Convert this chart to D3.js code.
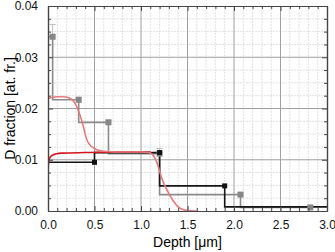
<!DOCTYPE html>
<html>
<head>
<meta charset="utf-8">
<script src="https://cdn.jsdelivr.net/npm/d3@7"></script>
<style>
  body { margin: 0; background: #fff; }
  svg { display: block; font-family: "Liberation Sans", Arial, sans-serif; }
</style>
</head>
<body>
<svg width="335" height="252"></svg>
<script>
// layer profiles: marker at the end of each layer
let blackDepth = [0.5, 1.2, 1.9, 3.1]
let blackFrac = [0.0095, 0.0114, 0.0049, 0.0008]

let grayDepth = [0.05, 0.33, 0.65, 1.2, 2.07, 2.82]
let grayFrac = [0.034, 0.0217, 0.0173, 0.0112, 0.0032, 0.0007]
let grayErr = [0.0024, 0.0005, 0.0004, 0.0010, 0.0002, 0.0002]

// smooth profiles
let pinkDepth = [0, 0.05, 0.1, 0.16, 0.22, 0.26, 0.3, 0.33, 0.36, 0.38, 0.4, 0.42, 0.45, 0.5, 0.55, 0.63, 0.8, 1.0, 1.08, 1.12, 1.15, 1.18, 1.22, 1.26, 1.3, 1.35, 1.4, 1.45, 1.5, 1.6]
let pinkFrac = [0.0219, 0.0222, 0.0223, 0.0223, 0.0221, 0.0217, 0.0207, 0.0194, 0.0178, 0.0165, 0.015, 0.0138, 0.0129, 0.0122, 0.0118, 0.0116, 0.0115, 0.0115, 0.0114, 0.0111, 0.0103, 0.009, 0.0066, 0.0048, 0.0034, 0.0019, 0.0008, 0.0003, 0.0001, 0]

let redDepth = [0, 0.003, 0.01, 0.02, 0.04, 0.08, 0.15, 0.4, 0.8, 1.1]
let redFrac = [0.007, 0.0088, 0.0098, 0.0104, 0.0108, 0.0111, 0.0113, 0.0114, 0.0115, 0.0115]

let xTicks = [0, 0.5, 1, 1.5, 2, 2.5, 3]
let yTicks = [0, 0.01, 0.02, 0.03, 0.04]

let svg = d3.select('svg')
let margin = { left: 48, right: 8, top: 6, bottom: 41 }
let width = +svg.attr('width') - margin.left - margin.right
let height = +svg.attr('height') - margin.top - margin.bottom

let scale = {
    x: d3.scaleLinear().domain([0, 3]).range([0, width]),
    y: d3.scaleLinear().domain([0, 0.04]).range([height, 0])
}

let xMinor = d3.range(0, 3.0001, 0.1).filter(v => Math.abs(v * 2 - Math.round(v * 2)) > 1e-6)
let yMinor = d3.range(0, 0.04001, 0.0025).filter(v => Math.abs(v * 100 - Math.round(v * 100)) > 1e-6)

let g = svg.append('g')
    .attr('transform', `translate(${margin.left},${margin.top})`)

g.append('clipPath').attr('id', 'clip')
    .append('rect').attr('width', width).attr('height', height)

// grid
g.append('g').selectAll('line').data(xMinor).join('line')
    .attr('x1', d => scale.x(d)).attr('x2', d => scale.x(d))
    .attr('y1', 0).attr('y2', height)
    .attr('stroke', '#e2e2e2').attr('stroke-dasharray', '2,1')
g.append('g').selectAll('line').data(yMinor).join('line')
    .attr('y1', d => scale.y(d)).attr('y2', d => scale.y(d))
    .attr('x1', 0).attr('x2', width)
    .attr('stroke', '#e2e2e2').attr('stroke-dasharray', '2,1')
g.append('g').selectAll('line').data(xTicks.slice(1, -1)).join('line')
    .attr('x1', d => scale.x(d)).attr('x2', d => scale.x(d))
    .attr('y1', 0).attr('y2', height)
    .attr('stroke', '#a0a0a0')
g.append('g').selectAll('line').data(yTicks.slice(1, -1)).join('line')
    .attr('y1', d => scale.y(d)).attr('y2', d => scale.y(d))
    .attr('x1', 0).attr('x2', width)
    .attr('stroke', '#a0a0a0')

let plot = g.append('g').attr('clip-path', 'url(#clip)')

let stepLine = d3.line()
    .x(d => scale.x(d[0]))
    .y(d => scale.y(d[1]))
    .curve(d3.curveStepBefore)
let smoothLine = d3.line()
    .x(d => scale.x(d[0]))
    .y(d => scale.y(d[1]))
    .curve(d3.curveMonotoneX)

let black = blackDepth.map((d, i) => [d, blackFrac[i]])
let gray = grayDepth.map((d, i) => [d, grayFrac[i], grayErr[i]])

// error bars
let err = plot.append('g').attr('stroke', '#bdbdbd').attr('stroke-width', 1)
gray.forEach(d => {
    let x = scale.x(d[0])
    err.append('line').attr('x1', x).attr('x2', x)
        .attr('y1', scale.y(d[1] - d[2])).attr('y2', scale.y(d[1] + d[2]))
    err.append('line').attr('x1', x - 3).attr('x2', x + 3)
        .attr('y1', scale.y(d[1] + d[2])).attr('y2', scale.y(d[1] + d[2]))
})

plot.append('path')
    .attr('d', stepLine([[0, gray[0][1]], ...gray]))
    .attr('fill', 'none').attr('stroke', '#8a8a8a').attr('stroke-width', 1.6)

plot.append('path')
    .attr('d', stepLine([[0, black[0][1]], ...black]))
    .attr('fill', 'none').attr('stroke', '#151515').attr('stroke-width', 1.6)

plot.append('path')
    .attr('d', smoothLine(redDepth.map((d, i) => [d, redFrac[i]])))
    .attr('fill', 'none').attr('stroke', '#d2161c').attr('stroke-width', 1.6)

plot.append('path')
    .attr('d', smoothLine(pinkDepth.map((d, i) => [d, pinkFrac[i]])))
    .attr('fill', 'none').attr('stroke', '#e8797c').attr('stroke-width', 1.6)

plot.selectAll('.gm').data(gray).join('rect')
    .attr('class', 'gm')
    .attr('x', d => scale.x(d[0]) - 3).attr('y', d => scale.y(d[1]) - 3)
    .attr('width', 6).attr('height', 6)
    .attr('fill', '#878787')

plot.selectAll('.bm').data(black).join('rect')
    .attr('class', 'bm')
    .attr('x', d => scale.x(d[0]) - 2.5).attr('y', d => scale.y(d[1]) - 2.5)
    .attr('width', 5).attr('height', 5)
    .attr('fill', '#111')

// axes with inward ticks on all sides
let axis = {
    bottom: d3.axisBottom(scale.x).tickValues(xTicks).tickFormat(d3.format('.1f')).tickSizeInner(-5).tickSizeOuter(0).tickPadding(9),
    left: d3.axisLeft(scale.y).tickValues(yTicks).tickFormat(d3.format('.2f')).tickSizeInner(-5).tickSizeOuter(0).tickPadding(10),
    top: d3.axisTop(scale.x).tickValues(xTicks).tickFormat('').tickSizeInner(-5).tickSizeOuter(0),
    right: d3.axisRight(scale.y).tickValues(yTicks).tickFormat('').tickSizeInner(-5).tickSizeOuter(0)
}
let minor = {
    bottom: d3.axisBottom(scale.x).tickValues(xMinor).tickFormat('').tickSizeInner(-3).tickSizeOuter(0),
    left: d3.axisLeft(scale.y).tickValues(yMinor).tickFormat('').tickSizeInner(-3).tickSizeOuter(0),
    top: d3.axisTop(scale.x).tickValues(xMinor).tickFormat('').tickSizeInner(-3).tickSizeOuter(0),
    right: d3.axisRight(scale.y).tickValues(yMinor).tickFormat('').tickSizeInner(-3).tickSizeOuter(0)
}
let pos = {
    bottom: `translate(0,${height})`,
    left: 'translate(0,0)',
    top: 'translate(0,0)',
    right: `translate(${width},0)`
}
Object.keys(axis).forEach(k => {
    g.append('g').attr('transform', pos[k]).call(minor[k])
    g.append('g').attr('transform', pos[k]).attr('class', 'ax').call(axis[k])
})
g.selectAll('.domain').attr('stroke', '#444').attr('stroke-width', 1.2)
g.selectAll('.tick line').attr('stroke', '#444')
g.selectAll('.ax text').attr('font-size', 12).attr('fill', '#111')

// labels
svg.append('text')
    .attr('x', margin.left + width / 2)
    .attr('y', 247)
    .attr('text-anchor', 'middle')
    .attr('font-size', 14)
    .text('Depth [μm]')

svg.append('text')
    .attr('transform', `translate(15,${margin.top + height / 2}) rotate(-90)`)
    .attr('text-anchor', 'middle')
    .attr('font-size', 14)
    .text('D fraction [at. fr.]')
</script>
</body>
</html>
